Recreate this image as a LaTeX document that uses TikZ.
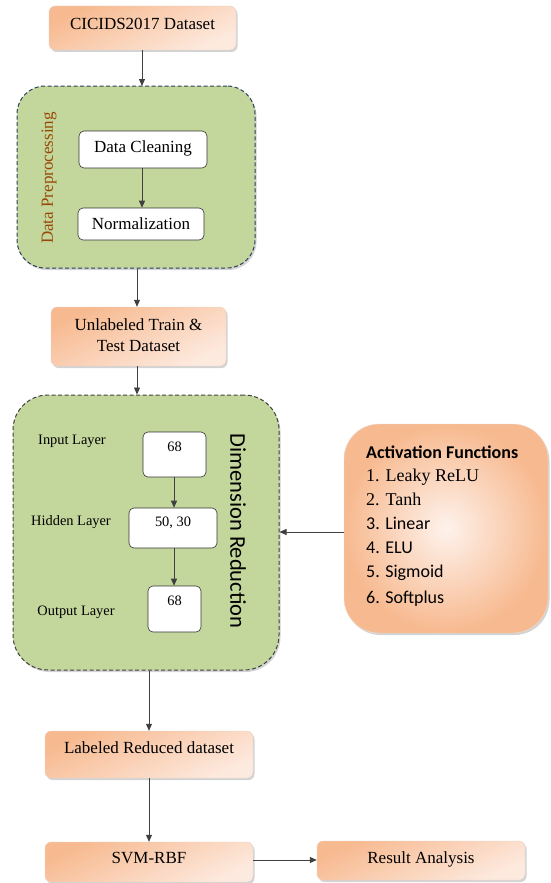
\documentclass[tikz,border=0pt]{standalone}
\usepackage{fontspec}
\setmainfont{Liberation Serif}
\newfontfamily\carl{Carlito}
\usetikzlibrary{arrows.meta,shadows}
\definecolor{orD}{HTML}{F7B98F}
\definecolor{orL}{HTML}{FDEADF}
\definecolor{grn}{HTML}{C3D69B}
\definecolor{blu}{HTML}{2B3F5C}
\definecolor{brn}{HTML}{984806}
\tikzset{
  obox/.style={draw=orD!80!black!40, line width=0.4pt, rounded corners=6pt,
    top color=orD, bottom color=orL, shading angle=25,
    drop shadow={shadow xshift=1.5pt, shadow yshift=-2pt, opacity=0.35},
    minimum width=#1},
  wbox/.style={draw=black!80, fill=white, rounded corners=5pt, line width=0.6pt},
  gbox/.style={fill=grn, line width=1pt, dash pattern=on 4pt off 2.5pt,
    drop shadow={shadow xshift=1.5pt, shadow yshift=-2pt, opacity=0.35}},
  txt/.style={font=\fontsize{17}{20}\selectfont},
  stxt/.style={font=\fontsize{14.4}{17}\selectfont},
  arr/.style={-{Triangle[length=7pt,width=6pt]}, line width=0.8pt, draw=black!75},
}
\begin{document}
\begin{tikzpicture}[x=1pt,y=-1pt]
\useasboundingbox (0,0) rectangle (550,883);
% top
\node[obox=187pt, minimum height=44pt] (cic) at (142.5,28) {};
\node[txt] (cict) at (142.5,24) {CICIDS2017 Dataset};
% preprocessing
\node[gbox, draw=blu, rounded corners=28pt, minimum width=238pt, minimum height=182pt] (pre) at (136,177) {};
\node[rotate=90, text=brn, font=\fontsize{17}{20}\selectfont] (pret) at (49,178) {Data Preprocessing};
\node[wbox, minimum width=128pt, minimum height=37pt] (clean) at (143,149.5) {};
\node[txt] (cleant) at (143,148) {Data Cleaning};
\node[wbox, minimum width=126pt, minimum height=32pt] (norm) at (141,224) {};
\node[txt] (normt) at (141,224) {Normalization};
\draw[arr] (cic.south -| 142,0) -- (142,86);
\draw[arr] (clean.south -| 142,0) -- (norm.north -| 142,0);
% unlabeled
\node[obox=175pt, minimum height=59pt] (unl) at (138.5,336.5) {};
\node[txt, align=center, inner sep=0pt] (unlt) at (138.5,335) {Unlabeled Train \&\\[1pt] Test Dataset};
\draw[arr] (pre.south -| 137,0) -- (unl.north -| 137,0);
% dimension reduction
\node[gbox, draw=black!75, rounded corners=35pt, minimum width=266pt, minimum height=275pt] (dim) at (146,532.5) {};
\draw[arr] (unl.south -| 137,0) -- (dim.north -| 137,0);
\node[rotate=-90, font=\carl\fontsize{22.5}{25}\selectfont] (dimt) at (238,531) {Dimension Reduction};
\node[stxt] (inl) at (72,441) {Input Layer};
\node[stxt] (hidl) at (71,522) {Hidden Layer};
\node[stxt] (outl) at (76,612) {Output Layer};
\node[wbox, minimum width=63pt, minimum height=45pt] (in68) at (174.5,454.5) {};
\node[stxt] (in68t) at (174.5,447) {68};
\node[wbox, minimum width=88pt, minimum height=40pt] (hid) at (173,528) {};
\node[stxt] (hidt) at (173,523) {50, 30};
\node[wbox, minimum width=53pt, minimum height=46pt] (out68) at (174.5,609) {};
\node[stxt] (out68t) at (174.5,601) {68};
\draw[arr] (in68.south -| 174,0) -- (hid.north -| 174,0);
\draw[arr] (hid.south -| 174,0) -- (out68.north -| 174,0);
% activation functions
\node[draw=orD!80!black!30, rounded corners=35pt, minimum width=204pt, minimum height=209pt,
  shading=radial, inner color=orL!60!white, outer color=orD,
  drop shadow={shadow xshift=1.5pt, shadow yshift=-2pt, opacity=0.35}] (act) at (446,528.5) {};
\begin{scope}[every node/.style={anchor=west, inner sep=0pt}]
\node[font=\carl\bfseries\fontsize{18}{20}\selectfont] (a0) at (366,452) {Activation Functions};
\node[font=\fontsize{18}{20}\selectfont] (a1) at (366,477) {1. Leaky ReLU};
\node[font=\fontsize{18}{20}\selectfont] (a2) at (366,499) {2. Tanh};
\node[font=\carl\fontsize{18}{20}\selectfont] (a3) at (366,523) {3. Linear};
\node[font=\carl\fontsize{18}{20}\selectfont] (a4) at (366,548) {4. ELU};
\node[font=\carl\fontsize{18}{20}\selectfont] (a5) at (366,573) {5. Sigmoid};
\node[font=\carl\fontsize{18}{20}\selectfont] (a6) at (366,599) {6. Softplus};
\end{scope}
\draw[arr] (act.west |- 0,532) -- (dim.east |- 0,532);
% bottom
\node[obox=208pt, minimum height=47pt] (lab) at (149,754.5) {};
\node[txt] (labt) at (149,748) {Labeled Reduced dataset};
\node[obox=208pt, minimum height=40pt] (svm) at (149,862) {};
\node[txt] (svmt) at (149,858) {SVM-RBF};
\node[obox=208pt, minimum height=39pt] (res) at (421,860.5) {};
\node[txt] (rest) at (421,859) {Result Analysis};
\draw[arr] (dim.south -| 149,0) -- (lab.north -| 149,0);
\draw[arr] (lab.south -| 149,0) -- (svm.north -| 149,0);
\draw[arr] (svm.east |- 0,860) -- (res.west |- 0,860);
\end{tikzpicture}
\end{document}
